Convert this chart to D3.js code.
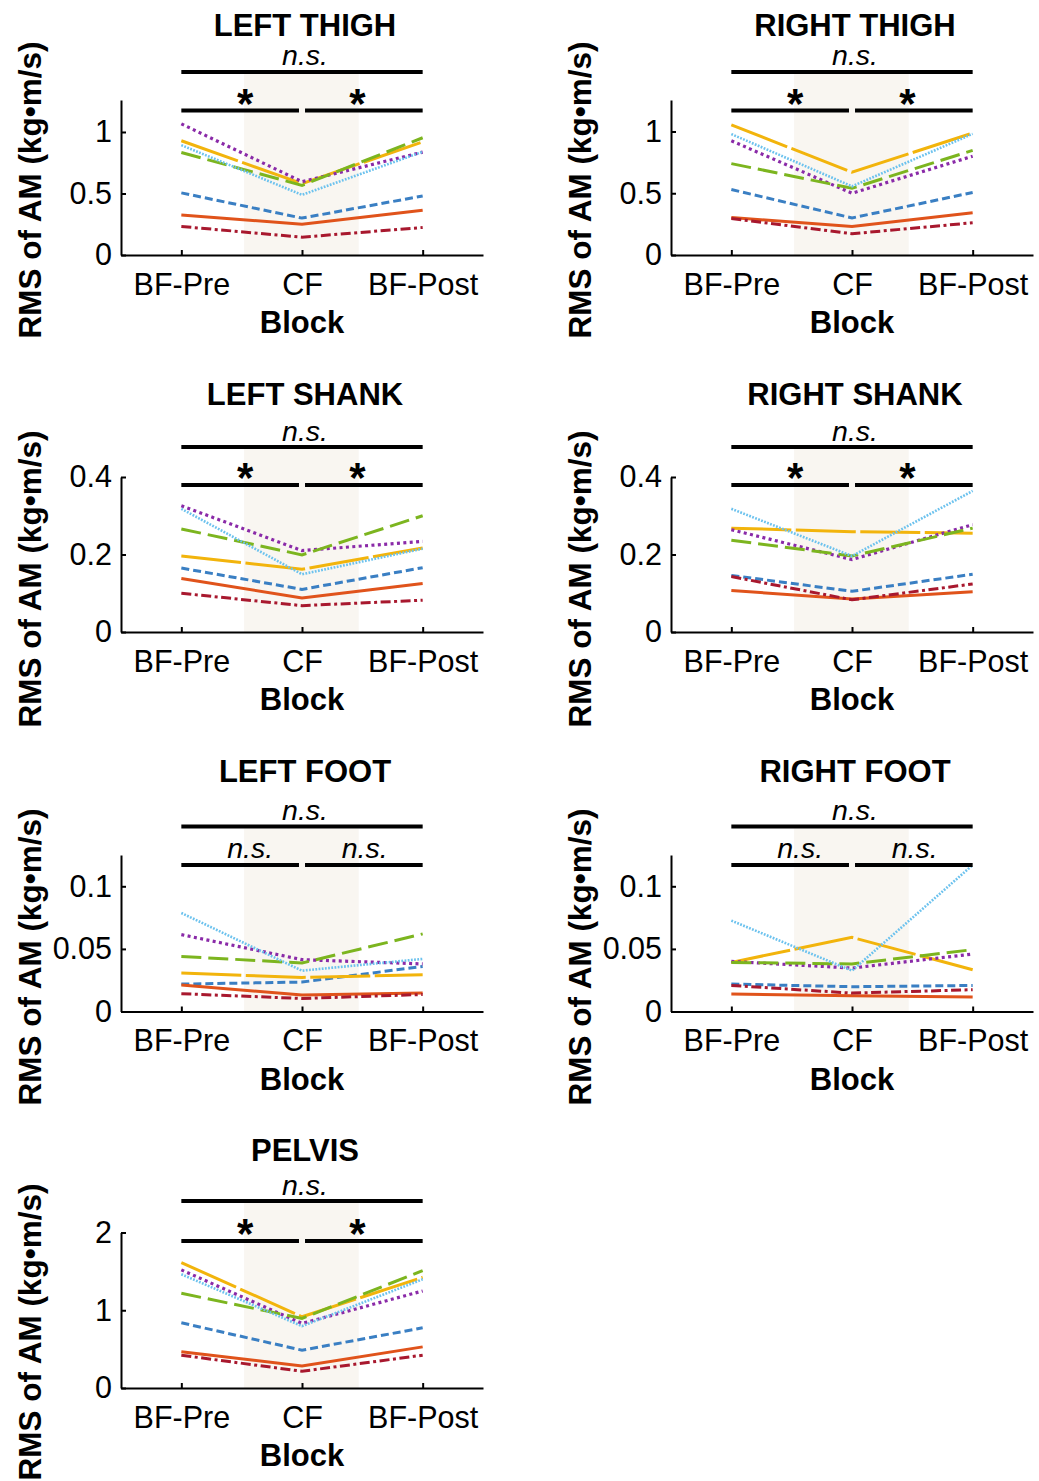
<!DOCTYPE html>
<html>
  <head>
    <script src="https://d3js.org/d3.v7.min.js"></script>
  </head>
  <body>
    <svg id="viz" width="1039" height="1481"></svg>
  </body>
  <script>
    // blocks on the x axis
    const categories = ["BF-Pre", "CF", "BF-Post"];
    const seriesNames = ["blue", "orange", "yellow", "purple", "green", "lightBlue", "darkRed"];

    // values per series, order: blue, orange, yellow, purple, green, lightBlue, darkRed
    const leftThigh = [
      [0.505, 0.3, 0.48],
      [0.325, 0.25, 0.363],
      [0.929, 0.58, 0.92],
      [1.066, 0.596, 0.836],
      [0.833, 0.566, 0.953],
      [0.893, 0.489, 0.839],
      [0.232, 0.145, 0.224],
    ];
    const rightThigh = [
      [0.53, 0.3, 0.506],
      [0.304, 0.231, 0.342],
      [1.054, 0.67, 0.987],
      [0.925, 0.5, 0.8],
      [0.74, 0.54, 0.847],
      [0.979, 0.556, 0.981],
      [0.296, 0.172, 0.261],
    ];
    const leftShank = [
      [0.165, 0.11, 0.166],
      [0.138, 0.088, 0.125],
      [0.196, 0.162, 0.217],
      [0.326, 0.21, 0.234],
      [0.266, 0.199, 0.3],
      [0.318, 0.149, 0.215],
      [0.1, 0.068, 0.082],
    ];
    const rightShank = [
      [0.146, 0.105, 0.149],
      [0.107, 0.085, 0.104],
      [0.268, 0.259, 0.255],
      [0.264, 0.187, 0.277],
      [0.237, 0.196, 0.268],
      [0.318, 0.196, 0.364],
      [0.143, 0.083, 0.124],
    ];
    const leftFoot = [
      [0.0219, 0.0235, 0.036],
      [0.0211, 0.0131, 0.0147],
      [0.0307, 0.0272, 0.0294],
      [0.0614, 0.0414, 0.038],
      [0.044, 0.0387, 0.062],
      [0.0787, 0.0326, 0.042],
      [0.0142, 0.0104, 0.0136],
    ];
    const rightFoot = [
      [0.0219, 0.0198, 0.0208],
      [0.0139, 0.0126, 0.0115],
      [0.0392, 0.0592, 0.0334],
      [0.04, 0.0347, 0.0459],
      [0.0392, 0.038, 0.0494],
      [0.0726, 0.0326, 0.117],
      [0.0208, 0.0147, 0.0174],
    ];
    const pelvis = [
      [0.839, 0.486, 0.774],
      [0.465, 0.284, 0.529],
      [1.613, 0.916, 1.424],
      [1.519, 0.83, 1.248],
      [1.218, 0.895, 1.51],
      [1.463, 0.796, 1.398],
      [0.422, 0.215, 0.422],
    ];

    // y ticks
    const thighTicks = [0, 0.5, 1];
    const shankTicks = [0, 0.2, 0.4];
    const footTicks = [0, 0.05, 0.1];
    const pelvisTicks = [0, 1, 2];

    const panels = [
      { title: "LEFT THIGH", data: leftThigh, yMax: 1.26, ticks: thighTicks, col: 0, row: 0, sig: ["n.s.", "*", "*"] },
      { title: "RIGHT THIGH", data: rightThigh, yMax: 1.255, ticks: thighTicks, col: 1, row: 0, sig: ["n.s.", "*", "*"] },
      { title: "LEFT SHANK", data: leftShank, yMax: 0.4, ticks: shankTicks, col: 0, row: 1, sig: ["n.s.", "*", "*"] },
      { title: "RIGHT SHANK", data: rightShank, yMax: 0.4, ticks: shankTicks, col: 1, row: 1, sig: ["n.s.", "*", "*"] },
      { title: "LEFT FOOT", data: leftFoot, yMax: 0.125, ticks: footTicks, col: 0, row: 2, sig: ["n.s.", "n.s.", "n.s."] },
      { title: "RIGHT FOOT", data: rightFoot, yMax: 0.125, ticks: footTicks, col: 1, row: 2, sig: ["n.s.", "n.s.", "n.s."] },
      { title: "PELVIS", data: pelvis, yMax: 2, ticks: pelvisTicks, col: 0, row: 3, sig: ["n.s.", "*", "*"] },
    ];

    // layout
    const cols = [
      { x0: 121, x1: 483, ylabX: 41 },
      { x0: 671, x1: 1033, ylabX: 591 },
    ];
    const rows = [
      { top: 100, bottom: 255, title: 36, ns: 65, barTop: 72, barLow: 110.5, ylab: 190 },
      { top: 477, bottom: 632, title: 405, ns: 441, barTop: 447, barLow: 485, ylab: 579 },
      { top: 855, bottom: 1011.5, title: 782, ns: 820, barTop: 826.5, barLow: 865, ylab: 957 },
      { top: 1232.5, bottom: 1388, title: 1161, ns: 1195, barTop: 1201, barLow: 1241, ylab: 1332 },
    ];

    const styles = {
      blue: { color: "#3a7fc3", dash: "8,4", width: 3 },
      orange: { color: "#e0531b", dash: null, width: 3 },
      yellow: { color: "#f2b40c", dash: "60,4.5", width: 3 },
      purple: { color: "#8a2aa8", dash: "3,3.4", width: 3.2 },
      green: { color: "#7cb51f", dash: "20,7", width: 3 },
      lightBlue: { color: "#6cc2ee", dash: "1.8,1.4", width: 2.6 },
      darkRed: { color: "#a8182e", dash: "10,3.5,3,3.5", width: 3 },
    };

    const font = "'Liberation Sans', Arial, Helvetica, sans-serif";

    function draw() {
      const svg = d3.select("svg#viz");
      svg.append("rect").attr("width", 1039).attr("height", 1481).attr("fill", "white");

      panels.forEach((p) => {
        const c = cols[p.col];
        const r = rows[p.row];
        const g = svg.append("g");

        const x = d3.scaleLinear().domain([0.5, 3.5]).range([c.x0, c.x1]);
        const y = d3.scaleLinear().domain([0, p.yMax]).range([r.bottom, r.top]);

        // CF shading
        g.append("rect")
          .attr("x", x(1.52))
          .attr("y", r.barTop + 2)
          .attr("width", x(2.47) - x(1.52))
          .attr("height", r.bottom - r.barTop - 2)
          .attr("fill", "#f9f6f1");

        const line = d3
          .line()
          .x((d, i) => x(i + 1))
          .y((d) => y(d));

        g.selectAll("path.series")
          .data(p.data)
          .join("path")
          .attr("class", "series")
          .attr("d", line)
          .attr("fill", "none")
          .attr("stroke", (d, i) => styles[seriesNames[i]].color)
          .attr("stroke-width", (d, i) => styles[seriesNames[i]].width)
          .attr("stroke-dasharray", (d, i) => styles[seriesNames[i]].dash)
          .attr("stroke-linejoin", "miter");

        // axes
        const yAxis = d3
          .axisLeft(y)
          .tickValues(p.ticks)
          .tickFormat(d3.format("~g"))
          .tickSizeInner(-5)
          .tickSizeOuter(0)
          .tickPadding(9);
        const xAxis = d3
          .axisBottom(x)
          .tickValues([1, 2, 3])
          .tickFormat((d) => categories[d - 1])
          .tickSizeInner(-5)
          .tickSizeOuter(0)
          .tickPadding(18);

        const ya = g.append("g").attr("transform", `translate(${c.x0},0)`).call(yAxis);
        const xa = g.append("g").attr("transform", `translate(0,${r.bottom})`).call(xAxis);
        [ya, xa].forEach((a) => {
          a.select(".domain").attr("stroke", "#000").attr("stroke-width", 2);
          a.selectAll(".tick line").attr("stroke", "#000").attr("stroke-width", 2);
          a.selectAll("text").attr("font-family", font).attr("font-size", 30.5).attr("fill", "#000");
        });

        // labels
        g.append("text")
          .attr("x", x(2) + 3)
          .attr("y", r.title)
          .attr("text-anchor", "middle")
          .attr("font-family", font)
          .attr("font-weight", "bold")
          .attr("font-size", 31)
          .text(p.title);

        g.append("text")
          .attr("x", x(2))
          .attr("y", r.bottom + 78)
          .attr("text-anchor", "middle")
          .attr("font-family", font)
          .attr("font-weight", "bold")
          .attr("font-size", 31)
          .text("Block");

        g.append("text")
          .attr("transform", `translate(${c.ylabX},${r.ylab}) rotate(-90)`)
          .attr("text-anchor", "middle")
          .attr("font-family", font)
          .attr("font-weight", "bold")
          .attr("font-size", 31.5)
          .text("RMS of AM (kg\u2022m/s)");

        // significance bars
        const bars = [
          [1, 3, r.barTop],
          [1, 1.975, r.barLow],
          [2.025, 3, r.barLow],
        ];
        g.selectAll("line.sig")
          .data(bars)
          .join("line")
          .attr("class", "sig")
          .attr("x1", (d) => x(d[0]))
          .attr("x2", (d) => x(d[1]))
          .attr("y1", (d) => d[2])
          .attr("y2", (d) => d[2])
          .attr("stroke", "#000")
          .attr("stroke-width", 4);

        g.append("text")
          .attr("x", x(2) + 3)
          .attr("y", r.ns)
          .attr("text-anchor", "middle")
          .attr("font-family", font)
          .attr("font-style", "italic")
          .attr("font-size", 28.5)
          .text(p.sig[0]);

        [p.sig[1], p.sig[2]].forEach((s, i) => {
          const star = s === "*";
          g.append("text")
            .attr("x", x(star ? [1.53, 2.46][i] : [1.57, 2.52][i]))
            .attr("y", star ? r.barLow + 7 : r.barLow - 7)
            .attr("text-anchor", "middle")
            .attr("font-family", font)
            .attr("font-style", star ? "normal" : "italic")
            .attr("font-weight", star ? "bold" : "normal")
            .attr("font-size", star ? 42 : 28.5)
            .text(s);
        });
      });
    }

    draw();
  </script>
  <style>
    body {
      margin: 0px;
    }
  </style>
</html>
